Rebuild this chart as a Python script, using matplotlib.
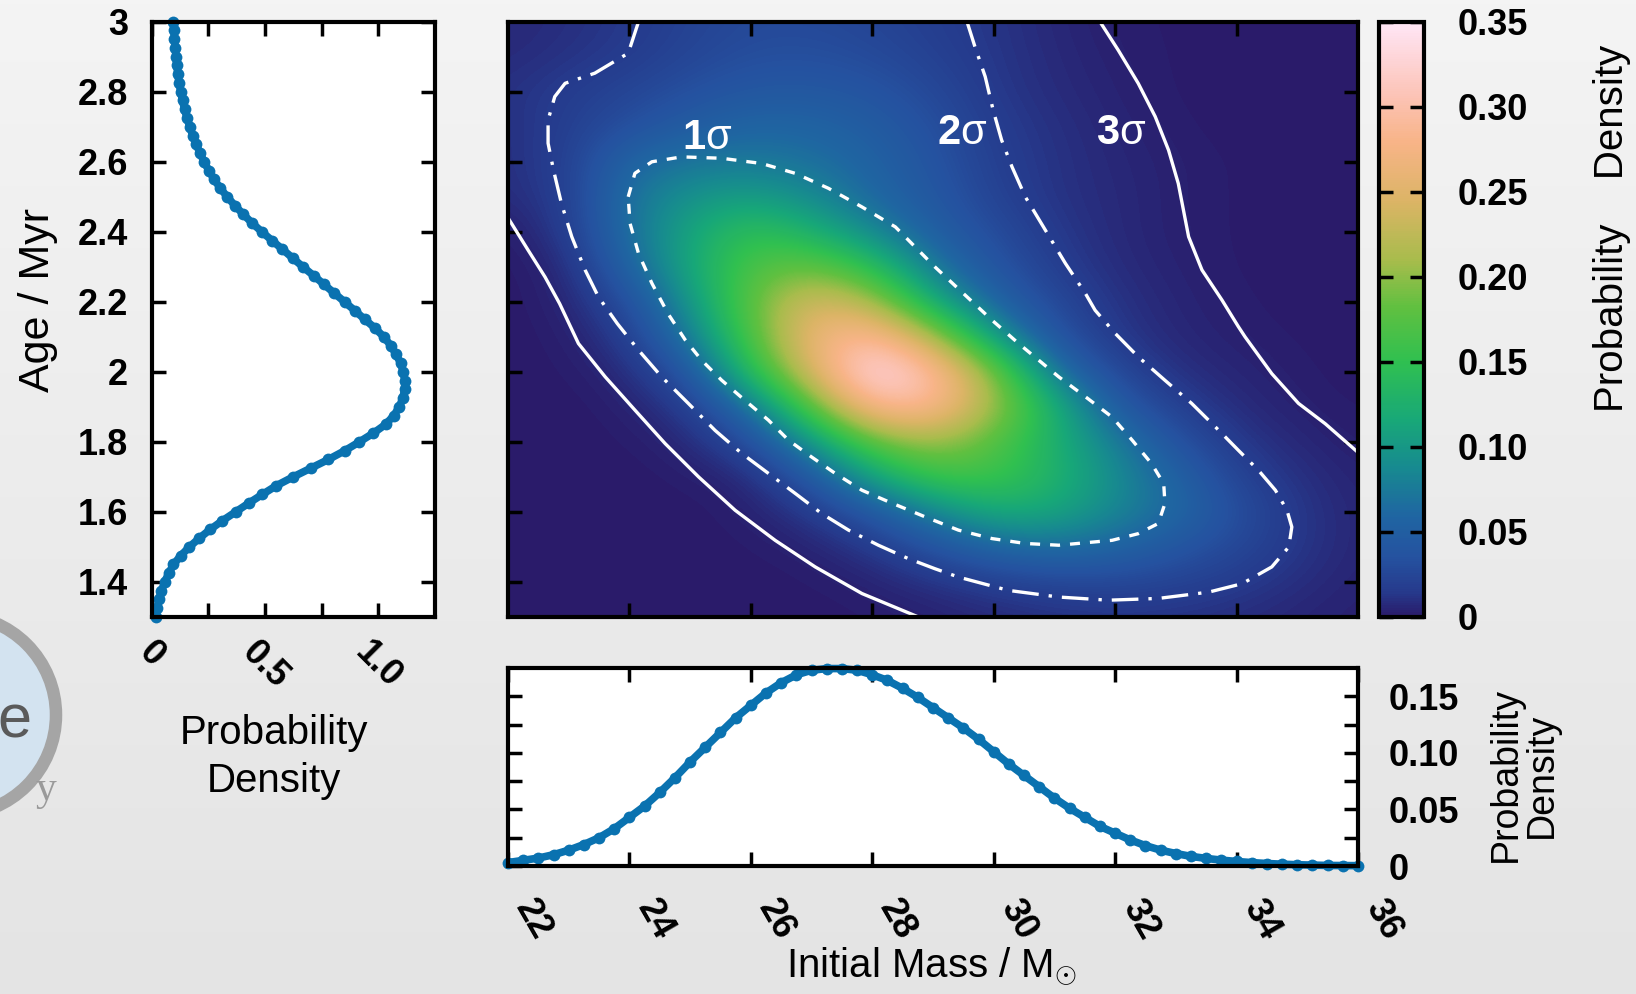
import numpy as np
import matplotlib
matplotlib.use("Agg")
import matplotlib.pyplot as plt
from matplotlib.colors import LinearSegmentedColormap
from matplotlib.patches import Circle

plt.rcParams['font.family'] = ['Liberation Sans', 'DejaVu Sans']
plt.rcParams['mathtext.fontset'] = 'custom'
plt.rcParams['mathtext.rm'] = 'Liberation Sans'

W, H = 1636, 994

# ---- marginal: age ----
age_grid = [1.300, 1.325, 1.350, 1.375, 1.400, 1.425, 1.450, 1.475, 1.500, 1.525,
            1.550, 1.575, 1.600, 1.625, 1.650, 1.675, 1.700, 1.725, 1.750, 1.775,
            1.800, 1.825, 1.850, 1.875, 1.900, 1.925, 1.950, 1.975, 2.000, 2.025,
            2.050, 2.075, 2.100, 2.125, 2.150, 2.175, 2.200, 2.225, 2.250, 2.275,
            2.300, 2.325, 2.350, 2.375, 2.400, 2.425, 2.450, 2.475, 2.500, 2.525,
            2.550, 2.575, 2.600, 2.625, 2.650, 2.675, 2.700, 2.725, 2.750, 2.775,
            2.800, 2.825, 2.850, 2.875, 2.900, 2.925, 2.950, 2.975, 3.000]
age_pdf = [0.017, 0.024, 0.032, 0.043, 0.057, 0.075, 0.096, 0.128, 0.166, 0.210,
           0.258, 0.312, 0.370, 0.428, 0.488, 0.550, 0.624, 0.702, 0.780, 0.852,
           0.916, 0.978, 1.032, 1.068, 1.092, 1.108, 1.116, 1.117, 1.110, 1.098,
           1.078, 1.055, 1.024, 0.985, 0.940, 0.896, 0.851, 0.805, 0.760, 0.714,
           0.667, 0.622, 0.577, 0.531, 0.486, 0.443, 0.404, 0.367, 0.333, 0.302,
           0.275, 0.252, 0.231, 0.213, 0.196, 0.181, 0.168, 0.156, 0.145, 0.136,
           0.128, 0.121, 0.115, 0.111, 0.107, 0.104, 0.100, 0.098, 0.095]

# ---- marginal: initial mass ----
mass_grid = [22.00, 22.25, 22.50, 22.75, 23.00, 23.25, 23.50, 23.75, 24.00, 24.25,
             24.50, 24.75, 25.00, 25.25, 25.50, 25.75, 26.00, 26.25, 26.50, 26.75,
             27.00, 27.25, 27.50, 27.75, 28.00, 28.25, 28.50, 28.75, 29.00, 29.25,
             29.50, 29.75, 30.00, 30.25, 30.50, 30.75, 31.00, 31.25, 31.50, 31.75,
             32.00, 32.25, 32.50, 32.75, 33.00, 33.25, 33.50, 33.75, 34.00, 34.25,
             34.50, 34.75, 35.00, 35.25, 35.50, 35.75, 36.00]
mass_pdf = [0.003, 0.005, 0.007, 0.010, 0.014, 0.019, 0.025, 0.033, 0.043, 0.053,
            0.065, 0.078, 0.092, 0.105, 0.118, 0.131, 0.142, 0.153, 0.162, 0.169,
            0.173, 0.1745, 0.1745, 0.173, 0.169, 0.164, 0.157, 0.149, 0.140, 0.131,
            0.122, 0.112, 0.101, 0.090, 0.080, 0.070, 0.060, 0.051, 0.043, 0.035,
            0.029, 0.023, 0.018, 0.014, 0.011, 0.0085, 0.0067, 0.0052, 0.0040, 0.0030,
            0.0022, 0.0016, 0.0011, 0.0008, 0.0005, 0.0004, 0.0003]

# ---- joint density (rows: age 3.0 -> 1.3, cols: mass 22 -> 36) ----
map_masses = [22, 23, 24, 25, 26, 27, 28, 29, 30, 31, 32, 33, 34, 35, 36]
map_ages = [3.0, 2.9, 2.8, 2.7, 2.6, 2.5, 2.4, 2.3, 2.2, 2.1,
            2.0, 1.9, 1.8, 1.7, 1.6, 1.5, 1.4, 1.3]
density = [
    [0.006, 0.009, 0.014, 0.022, 0.028, 0.028, 0.024, 0.018, 0.012, 0.006, 0.002, 0.001, 0.000, 0.000, 0.000],
    [0.007, 0.011, 0.016, 0.025, 0.032, 0.033, 0.029, 0.021, 0.013, 0.007, 0.003, 0.001, 0.000, 0.000, 0.000],
    [0.010, 0.017, 0.024, 0.034, 0.042, 0.043, 0.038, 0.027, 0.014, 0.008, 0.004, 0.001, 0.000, 0.000, 0.000],
    [0.009, 0.019, 0.033, 0.048, 0.058, 0.057, 0.048, 0.033, 0.017, 0.010, 0.005, 0.002, 0.000, 0.000, 0.000],
    [0.009, 0.019, 0.058, 0.072, 0.075, 0.068, 0.055, 0.038, 0.019, 0.011, 0.006, 0.003, 0.001, 0.000, 0.000],
    [0.008, 0.017, 0.070, 0.095, 0.105, 0.088, 0.060, 0.042, 0.022, 0.011, 0.007, 0.003, 0.001, 0.000, 0.000],
    [0.001, 0.015, 0.068, 0.112, 0.150, 0.125, 0.085, 0.050, 0.030, 0.014, 0.007, 0.003, 0.001, 0.000, 0.000],
    [0.000, 0.006, 0.056, 0.115, 0.170, 0.185, 0.145, 0.072, 0.038, 0.018, 0.008, 0.004, 0.001, 0.000, 0.000],
    [0.000, 0.004, 0.030, 0.098, 0.180, 0.245, 0.215, 0.115, 0.055, 0.026, 0.011, 0.005, 0.002, 0.000, 0.000],
    [0.000, 0.002, 0.016, 0.075, 0.170, 0.265, 0.295, 0.215, 0.100, 0.036, 0.014, 0.006, 0.003, 0.001, 0.000],
    [0.000, 0.001, 0.007, 0.038, 0.140, 0.245, 0.345, 0.300, 0.195, 0.068, 0.025, 0.010, 0.005, 0.002, 0.000],
    [0.000, 0.000, 0.003, 0.015, 0.068, 0.175, 0.290, 0.290, 0.210, 0.125, 0.045, 0.019, 0.008, 0.003, 0.001],
    [0.000, 0.000, 0.001, 0.006, 0.028, 0.095, 0.180, 0.210, 0.175, 0.125, 0.078, 0.035, 0.014, 0.006, 0.002],
    [0.000, 0.000, 0.000, 0.002, 0.006, 0.040, 0.108, 0.160, 0.160, 0.130, 0.090, 0.055, 0.022, 0.010, 0.004],
    [0.000, 0.000, 0.000, 0.000, 0.003, 0.013, 0.040, 0.082, 0.118, 0.115, 0.085, 0.062, 0.032, 0.013, 0.005],
    [0.000, 0.000, 0.000, 0.000, 0.001, 0.004, 0.013, 0.035, 0.058, 0.066, 0.058, 0.040, 0.026, 0.013, 0.005],
    [0.000, 0.000, 0.000, 0.000, 0.000, 0.001, 0.004, 0.010, 0.018, 0.024, 0.025, 0.022, 0.016, 0.009, 0.004],
    [0.000, 0.000, 0.000, 0.000, 0.000, 0.000, 0.001, 0.003, 0.006, 0.009, 0.011, 0.010, 0.008, 0.005, 0.003],
]

# ---- credible region contours ----
c1_mass = [23.98, 24.09, 24.37, 24.86, 25.52, 26.18, 26.73, 27.28, 27.83, 28.38, 29.03, 29.97,
           30.41, 31.07, 31.51, 31.95, 32.28, 32.60, 32.80, 32.82, 32.71, 32.38, 31.95, 31.07,
           30.52, 29.97, 29.42, 28.87, 28.27, 27.83, 27.39, 27.00, 26.62, 26.29, 25.90, 25.52,
           25.19, 24.92, 24.64, 24.37, 24.15, 24.01, 23.98]
c1_age = [2.500, 2.567, 2.600, 2.614, 2.610, 2.595, 2.567, 2.524, 2.471, 2.414, 2.300, 2.148,
          2.081, 1.986, 1.929, 1.871, 1.805, 1.738, 1.681, 1.624, 1.567, 1.538, 1.519, 1.505,
          1.510, 1.524, 1.548, 1.586, 1.629, 1.662, 1.710, 1.757, 1.805, 1.862, 1.919, 1.976,
          2.033, 2.091, 2.165, 2.253, 2.338, 2.424, 2.500]

c2_mass = [24.15, 23.98, 23.43, 22.94, 22.77, 22.66, 22.66, 22.75, 22.88, 23.05, 23.27, 23.49,
           23.80, 24.15, 24.53, 24.97, 25.41, 25.85, 26.29, 26.73, 27.17, 27.61, 28.10, 28.59,
           29.03, 29.42, 30.24, 31.07, 31.89, 32.71, 33.54, 34.09, 34.58, 34.86, 34.91, 34.83,
           34.64, 34.36, 34.03, 33.65, 33.26, 32.82, 32.38, 32.00, 31.67, 31.51, 31.18, 30.85,
           30.52, 30.30, 30.13, 29.99, 29.86, 29.69, 29.56]
c2_age = [3.000, 2.910, 2.853, 2.824, 2.786, 2.719, 2.653, 2.576, 2.481, 2.386, 2.291, 2.214,
          2.138, 2.062, 1.986, 1.910, 1.833, 1.767, 1.710, 1.653, 1.595, 1.548, 1.505, 1.467,
          1.438, 1.414, 1.376, 1.357, 1.348, 1.353, 1.371, 1.395, 1.443, 1.500, 1.557, 1.605,
          1.662, 1.719, 1.776, 1.843, 1.910, 1.976, 2.043, 2.110, 2.176, 2.224, 2.310, 2.405,
          2.500, 2.586, 2.662, 2.748, 2.843, 2.929, 3.000]

c3l_mass = [22.00, 22.33, 22.61, 22.85, 23.16, 23.60, 24.09, 24.59, 25.14, 25.74, 26.40, 27.06, 27.83, 28.76]
c3l_age = [2.440, 2.348, 2.271, 2.195, 2.081, 1.986, 1.891, 1.795, 1.700, 1.605, 1.519, 1.443, 1.367, 1.300]
c3r_mass = [31.75, 32.05, 32.38, 32.66, 32.88, 33.04, 33.21, 33.43, 33.76, 34.03, 34.14, 34.58, 35.02, 35.46, 36.00]
c3r_age = [3.000, 2.919, 2.824, 2.729, 2.633, 2.538, 2.386, 2.291, 2.205, 2.129, 2.100, 1.995, 1.910, 1.852, 1.770]

sigma_numbers = ['1', '2', '3']
sigma_label_mass = [25.25, 29.45, 32.06]
sigma_label_age = [2.667, 2.681, 2.681]

age_ticks = [1.4, 1.6, 1.8, 2.0, 2.2, 2.4, 2.6, 2.8, 3.0]
age_ticklabels = ['1.4', '1.6', '1.8', '2', '2.2', '2.4', '2.6', '2.8', '3']
mass_ticks = [22, 24, 26, 28, 30, 32, 34, 36]
cbar_ticks = [0, 0.05, 0.10, 0.15, 0.20, 0.25, 0.30, 0.35]
cbar_ticklabels = ['0', '0.05', '0.10', '0.15', '0.20', '0.25', '0.30', '0.35']

blue = '#0a72b0'
cmap = LinearSegmentedColormap.from_list('pdf', [
    (0.00, '#2a1b6a'), (0.04, '#263a8c'), (0.10, '#2552a0'), (0.17, '#1f66a2'),
    (0.25, '#178a90'), (0.33, '#18a878'), (0.43, '#30c050'), (0.52, '#60c040'),
    (0.60, '#a8bc4c'), (0.70, '#dcb466'), (0.80, '#f8b488'), (0.88, '#fcc4b8'),
    (1.00, '#ffe6f6')])


def box(x0, y0, x1, y1):
    return [x0 / W, 1 - y1 / H, (x1 - x0) / W, (y1 - y0) / H]


fig = plt.figure(figsize=(W / 100, H / 100), dpi=100)

# background gradient + partial logo
bg = fig.add_axes([0, 0, 1, 1], zorder=-10)
bg.imshow(np.linspace(0, 1, 256)[:, None],
          cmap=LinearSegmentedColormap.from_list('bg', ['#f4f4f4', '#e4e4e4']),
          extent=[0, W, H, 0], aspect='auto')
bg.set_xlim(0, W)
bg.set_ylim(H, 0)
bg.axis('off')
bg.add_patch(Circle((-44, 715), 100, facecolor='#d3e3f0', edgecolor='#a5a5a5', lw=9))
bg.text(14, 722, 'e', fontsize=44, color='#5a5a5a', ha='center', va='center')
bg.text(46, 790, 'y', fontsize=30, family='Liberation Serif', color='#9a9a9a',
        ha='center', va='center')

tick_kw = dict(direction='in', length=10, width=2.5)
tl_kw = dict(fontsize=26, fontweight='bold')
curve_kw = dict(color=blue, lw=5.5, marker='o', ms=8.5, mew=0,
                solid_capstyle='round', clip_on=False)

# ---- main joint panel ----
axM = fig.add_axes(box(508, 21.7, 1358, 617))
im = axM.imshow(density, cmap=cmap, vmin=0, vmax=0.35, origin='upper', aspect='auto',
                extent=[21.5, 36.5, 1.25, 3.05], interpolation='bicubic',
                interpolation_stage='data')
axM.plot(c1_mass, c1_age, color='white', lw=2.4, linestyle=(0, (3, 3)))
axM.plot(c2_mass, c2_age, color='white', lw=2.4, linestyle=(0, (8, 3, 1, 3)))
axM.plot(c3l_mass, c3l_age, color='white', lw=2.4)
axM.plot(c3r_mass, c3r_age, color='white', lw=2.4)
for num, mx, ay in zip(sigma_numbers, sigma_label_mass, sigma_label_age):
    axM.text(mx, ay, num, color='white', fontsize=30, fontweight='bold',
             ha='right', va='center')
    axM.text(mx, ay, 'σ', color='white', fontsize=30, ha='left', va='center')
axM.set_xlim(22, 36)
axM.set_ylim(1.3, 3.0)
axM.set_xticks(mass_ticks[1:-1])
axM.set_yticks(age_ticks[:-1])
axM.tick_params(top=True, right=True, labelbottom=False, labelleft=False, **tick_kw)
for s in axM.spines.values():
    s.set_linewidth(3)

# ---- colorbar ----
cax = fig.add_axes(box(1379, 21.7, 1424, 617))
cb = fig.colorbar(im, cax=cax)
cb.set_ticks(cbar_ticks)
cax.set_yticklabels(cbar_ticklabels, **tl_kw)
cax.tick_params(left=True, right=True, pad=24, **tick_kw)
cb.outline.set_linewidth(3)
fig.text(1612 / W, 1 - 228 / H, 'Probability    Density', rotation=90,
         fontsize=29, ha='center', va='center')

# ---- left panel: age marginal ----
axL = fig.add_axes(box(151.7, 21.7, 435, 617))
axL.set_facecolor('white')
axL.plot(age_pdf, age_grid, **curve_kw)
axL.set_xlim(0, 1.25)
axL.set_ylim(1.3, 3.0)
axL.set_xticks([0, 0.25, 0.5, 0.75, 1.0])
axL.set_xticklabels(['0', '', '0.5', '', '1.0'], rotation=-45, ha='center', va='top', **tl_kw)
axL.set_yticks(age_ticks)
axL.set_yticklabels(age_ticklabels, **tl_kw)
axL.tick_params(axis='x', top=True, pad=13, **tick_kw)
axL.tick_params(axis='y', right=True, pad=17, **tick_kw)
for s in axL.spines.values():
    s.set_linewidth(3)
fig.text(38 / W, 1 - 300 / H, 'Age / Myr', rotation=90, fontsize=31,
         ha='center', va='center')
fig.text(274 / W, 1 - 757 / H, 'Probability\nDensity', fontsize=29,
         ha='center', va='center', linespacing=1.35)

# ---- bottom panel: mass marginal ----
axB = fig.add_axes(box(508, 668, 1358, 866))
axB.set_facecolor('white')
axB.plot(mass_grid, mass_pdf, **curve_kw)
axB.set_xlim(22, 36)
axB.set_ylim(0, 0.175)
axB.set_xticks(mass_ticks)
axB.set_xticklabels([str(m) for m in mass_ticks], rotation=-60, ha='left', va='top', **tl_kw)
axB.set_yticks([0, 0.025, 0.05, 0.075, 0.10, 0.125, 0.15])
axB.set_yticklabels(['0', '', '0.05', '', '0.10', '', '0.15'], **tl_kw)
axB.tick_params(axis='x', top=True, pad=20, **tick_kw)
axB.tick_params(axis='y', left=True, right=True, labelleft=False, labelright=True,
                pad=22, **tick_kw)
for s in axB.spines.values():
    s.set_linewidth(3)
fig.text(932 / W, 1 - 966 / H, r'Initial Mass / $\mathrm{M}_{\odot}$', fontsize=29,
         ha='center', va='center')
fig.text(1524 / W, 1 - 775 / H, 'Probability\nDensity', rotation=90, fontsize=27,
         ha='center', va='center', linespacing=1.0)

fig.savefig('out.png', dpi=100, facecolor=fig.get_facecolor())
